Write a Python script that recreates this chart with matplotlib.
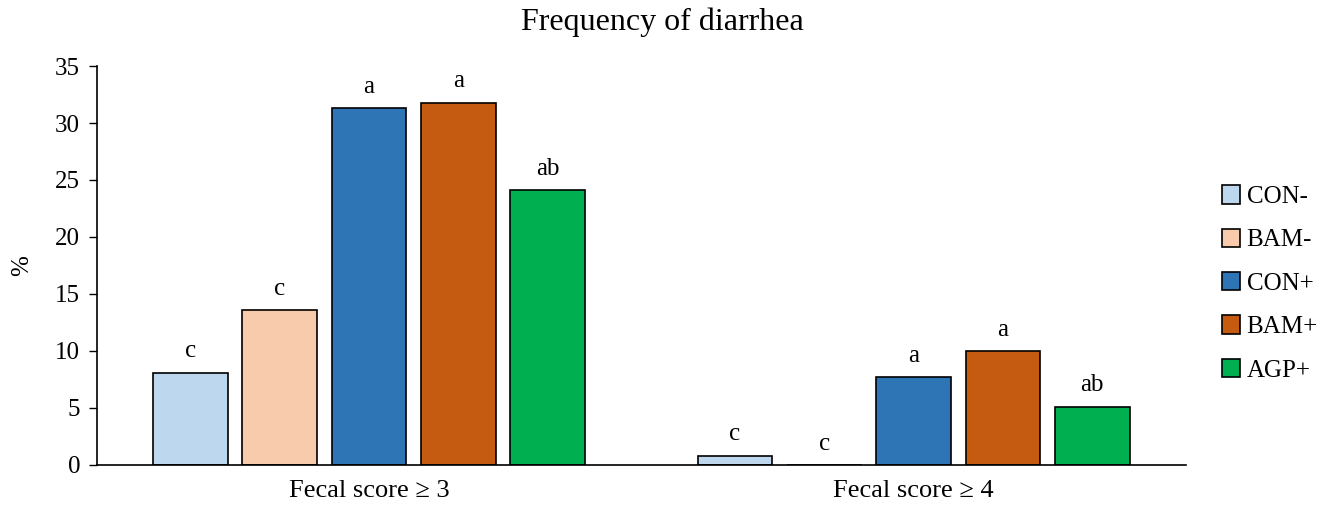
import numpy as np
import matplotlib
matplotlib.use("Agg")
import matplotlib.pyplot as plt

plt.rcParams['font.family'] = ['Liberation Serif', 'DejaVu Serif']

# data
groups = ["Fecal score \u2265 3", "Fecal score \u2265 4"]
treatments = ["CON-", "BAM-", "CON+", "BAM+", "AGP+"]
con_neg = [8.1, 0.8]
bam_neg = [13.6, 0.0]
con_pos = [31.3, 7.7]
bam_pos = [31.8, 10.0]
agp_pos = [24.1, 5.1]
letters_neg_con = ["c", "c"]
letters_neg_bam = ["c", "c"]
letters_pos_con = ["a", "a"]
letters_pos_bam = ["a", "a"]
letters_pos_agp = ["ab", "ab"]

series = [con_neg, bam_neg, con_pos, bam_pos, agp_pos]
letters = [letters_neg_con, letters_neg_bam, letters_pos_con, letters_pos_bam, letters_pos_agp]
colors = ["#BDD7EE", "#F8CBAD", "#2E75B6", "#C55A11", "#00B050"]

fig = plt.figure(figsize=(13.25, 5.2), dpi=100)
ax = fig.add_axes([0.073, 0.106, 0.822, 0.767])

x = np.arange(len(groups))
step = 0.164
width = 0.137
for i, (vals, lab, col, let) in enumerate(zip(series, treatments, colors, letters)):
    pos = x + (i - 2) * step
    ax.bar(pos, vals, width, color=col, edgecolor="black", linewidth=1.2, label=lab)
    for p, v, t in zip(pos, vals, let):
        ax.annotate(t, (p, v), xytext=(0, 11), textcoords="offset points",
                    ha="center", va="baseline", fontsize=18)

ax.set_xlim(-0.5, 1.5)
ax.set_ylim(0, 35)
ax.set_yticks(range(0, 36, 5))
ax.set_xticks(x)
ax.set_xticklabels(groups, fontsize=19)
ax.tick_params(axis="x", length=0, pad=11)
ax.tick_params(axis="y", labelsize=18, length=6, width=1, direction="out", pad=6)
ax.spines["top"].set_visible(False)
ax.spines["right"].set_visible(False)
ax.spines["left"].set_linewidth(1.2)
ax.spines["bottom"].set_linewidth(1.2)
ax.set_ylabel("%", fontsize=18, labelpad=16)

fig.suptitle("Frequency of diarrhea", fontsize=23, y=0.985)

fig.legend(loc="center left", bbox_to_anchor=(0.905, 0.455), frameon=False,
           fontsize=18, handlelength=0.75, handleheight=0.75, handletextpad=0.25,
           labelspacing=0.82)

fig.savefig("out.png", dpi=100)
